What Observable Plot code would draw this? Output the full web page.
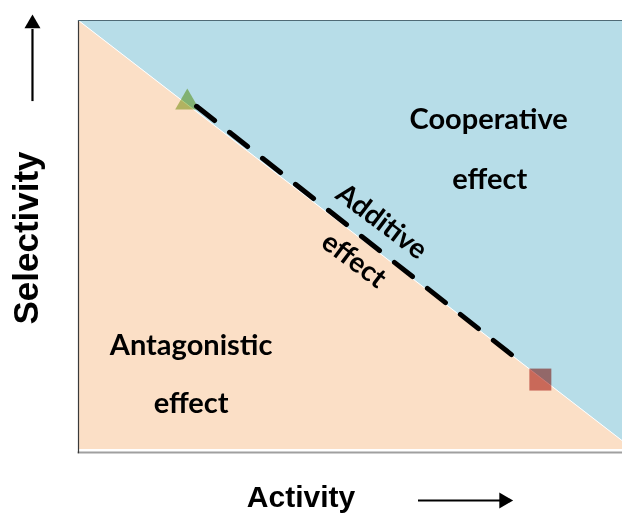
<!DOCTYPE html>
<html>
<head>
<meta charset="utf-8">
<script src="https://cdn.jsdelivr.net/npm/d3@7"></script>
<script src="https://cdn.jsdelivr.net/npm/@observablehq/plot@0.6"></script>
<style>
  html, body { margin: 0; padding: 0; background: #ffffff; }
  #chart { width: 622px; height: 515px; }
</style>
</head>
<body>
<div id="chart"></div>
<script>
// Boundary (additive line) of the diagram, in axis units 0..10
const boundary = [{x: 0, y: 10}, {x: 10, y: 0.2}];
// Dashed "additive" segment between the two pure components
const additiveSegment = [{x: 2.17, y: 8.0}, {x: 8.0, y: 2.17}];
// Pure components
const componentA = [{x: 2.0, y: 8.09}];   // triangle
const componentB = [{x: 8.49, y: 1.63}];  // square
// Region labels
const regionLabels = [
  {x: 7.54, y: 7.68, text: "Cooperative"},
  {x: 7.56, y: 6.30, text: "effect"},
  {x: 2.07, y: 2.43, text: "Antagonistic"},
  {x: 2.07, y: 1.06, text: "effect"}
];
const additiveLabels = [
  {x: 5.57, y: 5.31, text: "Additive"},
  {x: 5.06, y: 4.41, text: "effect"}
];
// Axis titles
const yTitle = [{x: -0.956, y: 4.93, text: "Selectivity"}];
const xTitle = [{x: 4.09, y: -1.11, text: "Activity"}];
// Axis arrows
const upArrowShaft = [{x: -0.846, y1: 8.11, y2: 9.79}];
const upArrowHead = [{x: -0.846, y: 9.925}];
const rightArrowShaft = [{y: -1.189, x1: 6.25, x2: 7.79}];
const rightArrowHead = [{x: 7.82, y: -1.189}];

const blue = "#b7dde8";
const peach = "#fbdfc6";

const chart = Plot.plot({
  width: 622,
  height: 515,
  marginLeft: 78,
  marginTop: 20,
  marginRight: 0,
  marginBottom: 66,
  x: {domain: [0, 10], axis: null},
  y: {domain: [0, 10], axis: null},
  style: {background: "#ffffff", overflow: "visible"},
  marks: [
    Plot.areaY(boundary, {x: "x", y1: 0, y2: "y", fill: peach}),
    Plot.areaY(boundary, {x: "x", y1: "y", y2: 10, fill: blue}),
    Plot.line(boundary, {x: "x", y: "y", stroke: "#ffffff", strokeWidth: 1}),
    // frame
    Plot.ruleY([0], {x1: -0.01, x2: 10, dy: 3, stroke: "#a0a0a0", strokeWidth: 2}),
    Plot.ruleX([0], {y1: -0.1, y2: 10, stroke: "#3a3a3a", strokeWidth: 1.2}),
    Plot.ruleY([10], {x1: 0, x2: 10, stroke: "#4f6a76", strokeWidth: 1.2}),
    // additive dashed line
    Plot.line(additiveSegment, {x: "x", y: "y", stroke: "#000000", strokeWidth: 5, strokeDasharray: "23,19"}),
    // components
    Plot.dot(componentA, {x: "x", y: "y", symbol: "triangle", r: 9, fill: "#b4cc7d", stroke: "none", mixBlendMode: "multiply"}),
    Plot.dot(componentB, {x: "x", y: "y", symbol: "square", r: 12.4, fill: "#cd7873", stroke: "none", mixBlendMode: "multiply"}),
    // labels
    Plot.text(regionLabels, {x: "x", y: "y", text: "text", fontFamily: "Lato", fontWeight: "bold", fontSize: 29, fill: "#000000"}),
    Plot.text(additiveLabels, {x: "x", y: "y", text: "text", rotate: 37, fontFamily: "Lato", fontWeight: "bold", fontSize: 28, fill: "#000000"}),
    Plot.text(yTitle, {x: "x", y: "y", text: "text", rotate: -90, fontFamily: "Liberation Sans", fontWeight: "bold", fontSize: 35, fill: "#000000"}),
    Plot.text(xTitle, {x: "x", y: "y", text: "text", fontFamily: "Liberation Sans", fontWeight: "bold", fontSize: 30, fill: "#000000"}),
    // arrows
    Plot.ruleX(upArrowShaft, {x: "x", y1: "y1", y2: "y2", stroke: "#000000", strokeWidth: 2.2}),
    Plot.dot(upArrowHead, {x: "x", y: "y", symbol: "triangle", r: 5.94, fill: "#000000", stroke: "none"}),
    Plot.ruleY(rightArrowShaft, {y: "y", x1: "x1", x2: "x2", stroke: "#000000", strokeWidth: 2.2}),
    Plot.dot(rightArrowHead, {x: "x", y: "y", symbol: "triangle", rotate: 90, r: 5.94, fill: "#000000", stroke: "none"})
  ]
});
document.getElementById("chart").appendChild(chart);
</script>
</body>
</html>
